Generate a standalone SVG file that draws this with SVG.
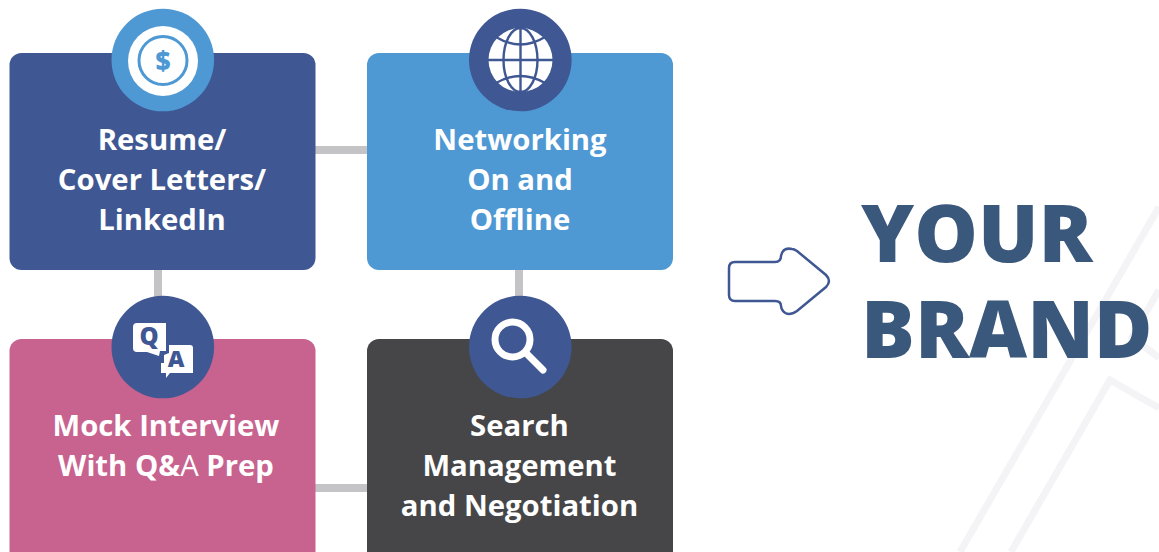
<svg xmlns="http://www.w3.org/2000/svg" width="1159" height="552" viewBox="0 0 1159 552">
<style>
.t{font-family:"Open Sans","Noto Sans",sans-serif;font-weight:700;font-size:29.300px;fill:#fff;text-anchor:middle}
.b{font-family:"Open Sans","Noto Sans",sans-serif;font-weight:800;font-size:80px;fill:#3a577c}
.c{stroke:#c4c3c5;stroke-width:8;fill:none}
.bg{stroke:#f4f4f6;stroke-width:7;fill:none}
</style>
<rect width="1159" height="552" fill="#fff"/>
<g id="background">
<path class="bg" d="M960 552L1159 207"/>
<path class="bg" d="M1011 552L1110 380L1159 408"/>
<path class="bg" d="M1159 290L1132 337L1159 358"/>
</g>
<g id="connectors">
<path class="c" d="M315 150H367"/>
<path class="c" d="M158 270V339"/>
<path class="c" d="M519 270V339"/>
<path class="c" d="M315 488H367"/>
</g>
<g id="node-resume">
<rect x="9.500" y="53" width="306" height="217" rx="12" fill="#3f5792"/>
<circle cx="162.800" cy="60" r="51.300" fill="#4e98d4"/>
<circle cx="163" cy="61" r="35" fill="#fff"/>
<circle cx="163" cy="60.500" r="24" fill="none" stroke="#4e98d4" stroke-width="3"/>
<text x="163" y="69.500" font-family="'Open Sans',sans-serif" font-weight="800" font-size="26" fill="#4e98d4" text-anchor="middle">$</text>
<text class="t" x="162" y="150">Resume/</text>
<text class="t" x="162" y="190">Cover Letters/</text>
<text class="t" x="162" y="230">LinkedIn</text>
</g>
<g id="node-networking">
<rect x="367" y="53" width="306" height="217" rx="12" fill="#4e98d4"/>
<circle cx="520.300" cy="60" r="51.300" fill="#3f5792"/>
<circle cx="520.500" cy="60" r="32" fill="#fff"/>
<g fill="none" stroke="#3f5792" stroke-width="2.400">
<path d="M488 60H553M520.500 28V92"/>
<ellipse cx="520.500" cy="60" rx="17" ry="32"/>
<path d="M496 37Q520.500 52 545 37M496 83Q520.500 69 545 83"/>
</g>
<text class="t" x="520" y="150">Networking</text>
<text class="t" x="520" y="190">On and</text>
<text class="t" x="520" y="230">Offline</text>
</g>
<g id="node-interview">
<rect x="9.500" y="339" width="306" height="225" rx="12" fill="#c8628f"/>
<circle cx="162.800" cy="347" r="51.300" fill="#3f5792"/>
<path d="M137 323H166V351H160L159 356L147 352H137Q133 352 133 348V327Q133 323 137 323Z" fill="#fff"/>
<path d="M169 345H190Q193 345 193 348V373H170L166 378V373H161V363H164V355L169 353Z" fill="#fff"/>
<text x="149" y="345" font-family="'Open Sans',sans-serif" font-weight="800" font-size="24" fill="#3f5792" text-anchor="middle">Q</text>
<text x="176" y="367" font-family="'Open Sans',sans-serif" font-weight="800" font-size="23" fill="#3f5792" text-anchor="middle">A</text>
<text class="t" x="166" y="436">Mock Interview</text>
<text class="t" x="166" y="476">With Q&amp;<tspan font-weight="400">A</tspan> Prep</text>
</g>
<g id="node-search">
<rect x="367" y="339" width="306" height="225" rx="12" fill="#464648"/>
<circle cx="520.300" cy="347" r="51.300" fill="#3f5792"/>
<circle cx="512.500" cy="339.500" r="17.500" fill="none" stroke="#fff" stroke-width="7"/>
<path d="M527 354L543 370" stroke="#fff" stroke-width="7" stroke-linecap="round"/>
<text class="t" x="519.500" y="436">Search</text>
<text class="t" x="519.500" y="476">Management</text>
<text class="t" x="519.500" y="516">and Negotiation</text>
</g>
<g id="arrow">
<path d="M735 262H775Q781 262 781 256Q783 247 792 249Q794 249 797 251L826 275Q832 281 826 287L797 311Q788 317 783 311Q781 308 781 306Q781 301 775 301H735Q729 301 729 295V268Q729 262 735 262Z" fill="#fff" stroke="#3f5792" stroke-width="2.500"/>
</g>
<g id="label-brand">
<text class="b" x="861" y="262">YOUR</text>
<text class="b" x="861" y="358">BRAND</text>
</g>
</svg>
